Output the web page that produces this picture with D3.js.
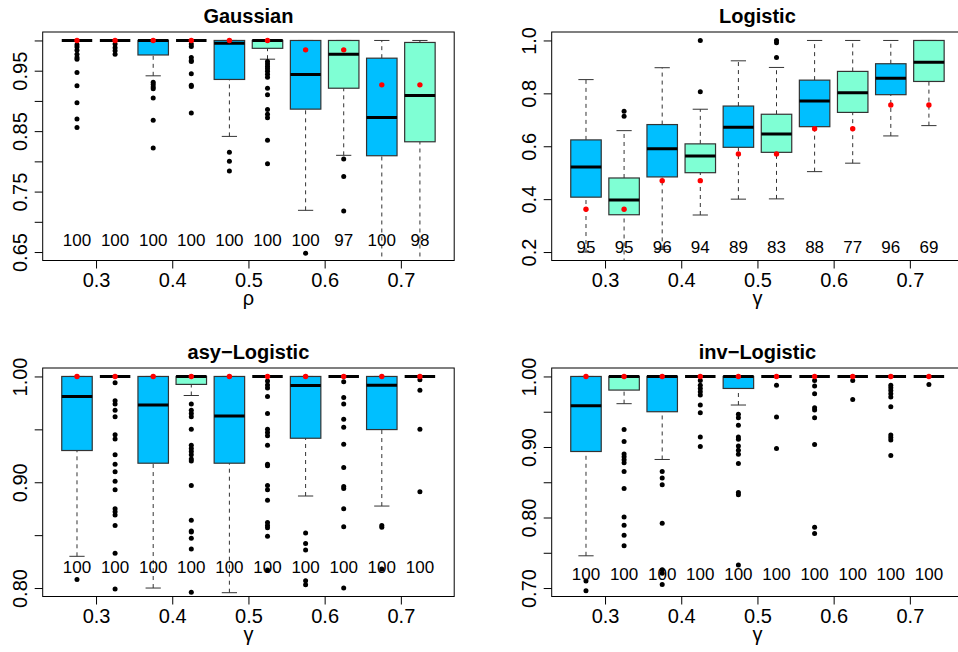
<!DOCTYPE html>
<html><head><meta charset="utf-8">
<script src="https://cdn.jsdelivr.net/npm/d3@7/dist/d3.min.js"></script>
<style>body{margin:0;background:#fff}svg{display:block}</style>
</head><body>
<svg id="chart" width="958" height="652"></svg>
<script>
// ---------- shared categories ----------
const xTickLabels = ["0.3", "0.4", "0.5", "0.6", "0.7"];
const xTickPositions = [1.5, 3.5, 5.5, 7.5, 9.5];
const boxPositions = [1, 2, 3, 4, 5, 6, 7, 8, 9, 10];
const boxColors = ["#00BFFF", "#7FFFD4"];

// ---------- Gaussian ----------
// [lower whisker, Q1, median, Q3, upper whisker]
const gaussStats = [
  [1, 1, 1, 1, 1], [1, 1, 1, 1, 1], [0.9415, 0.976, 1, 1, 1], [1, 1, 1, 1, 1],
  [0.8413, 0.9355, 0.9955, 1, 1], [0.969, 0.987, 1, 1, 1], [0.719, 0.8864, 0.9438, 1, 1],
  [0.810, 0.921, 0.977, 1, 1], [0.55, 0.8093, 0.8727, 0.9707, 1], [0.55, 0.8324, 0.909, 0.9967, 1]
];
const gaussOutliers = [
  [0.993, 0.989, 0.984, 0.977, 0.972, 0.969, 0.947, 0.925, 0.897, 0.870, 0.856],
  [0.994, 0.988, 0.983, 0.977],
  [0.931, 0.927, 0.923, 0.920, 0.905, 0.868, 0.822],
  [0.994, 0.990, 0.972, 0.967, 0.965, 0.945, 0.926, 0.924, 0.880],
  [0.815, 0.800, 0.784],
  [0.965, 0.961, 0.957, 0.953, 0.949, 0.944, 0.939, 0.921, 0.910, 0.886, 0.878, 0.872, 0.835, 0.796],
  [0.648],
  [0.804, 0.775, 0.718],
  [], []
];
const gaussTrue = [1, 1, 1, 1, 1, 1, 0.9845, 0.9845, 0.9266, 0.9266];
const gaussCounts = [100, 100, 100, 100, 100, 100, 100, 97, 100, 98];
const gaussYTicks = [0.65, 0.70, 0.75, 0.80, 0.85, 0.90, 0.95, 1.00];
const gaussYLabels = ["0.65", "", "0.75", "", "0.85", "", "0.95", ""];

// ---------- Logistic ----------
const logStats = [
  [0.2, 0.4075, 0.522, 0.624, 0.852], [0.1, 0.341, 0.397, 0.480, 0.659],
  [0.21, 0.484, 0.591, 0.682, 0.897], [0.340, 0.500, 0.563, 0.609, 0.740],
  [0.400, 0.596, 0.672, 0.752, 0.923], [0.401, 0.577, 0.646, 0.721, 0.898],
  [0.504, 0.674, 0.771, 0.850, 1.0], [0.536, 0.728, 0.802, 0.883, 1.0],
  [0.639, 0.795, 0.857, 0.912, 1.0], [0.678, 0.845, 0.918, 1.0, 1.0]
];
const logOutliers = [[], [0.732, 0.713], [], [1.0, 0.806], [], [1.0, 0.991, 0.936], [], [], [], []];
const logTrue = [0.362, 0.362, 0.470, 0.470, 0.571, 0.571, 0.666, 0.666, 0.756, 0.756];
const logCounts = [95, 95, 96, 94, 89, 83, 88, 77, 96, 69];
const logYTicks = [0.2, 0.4, 0.6, 0.8, 1.0];
const logYLabels = ["0.2", "0.4", "0.6", "0.8", "1.0"];

// ---------- asy-Logistic ----------
const asyStats = [
  [0.830, 0.930, 0.981, 1, 1], [1, 1, 1, 1, 1], [0.800, 0.918, 0.973, 1, 1],
  [0.982, 0.9925, 1, 1, 1], [0.7956, 0.918, 0.9626, 1, 1], [1, 1, 1, 1, 1],
  [0.887, 0.9416, 0.9915, 1, 1], [1, 1, 1, 1, 1], [0.8775, 0.9498, 0.9918, 1, 1], [1, 1, 1, 1, 1]
];
const asyOutliers = [
  [0.808],
  [0.994, 0.977, 0.974, 0.968, 0.962, 0.945, 0.941, 0.926, 0.917, 0.910, 0.901, 0.893, 0.875, 0.872, 0.869, 0.859, 0.833, 0.799],
  [],
  [0.974, 0.968, 0.965, 0.962, 0.950, 0.935, 0.932, 0.929, 0.926, 0.922, 0.920, 0.897, 0.864, 0.854, 0.853, 0.847, 0.837, 0.796],
  [],
  [0.9956, 0.992, 0.989, 0.981, 0.965, 0.950, 0.947, 0.944, 0.935, 0.917, 0.9155, 0.897, 0.893, 0.883, 0.862, 0.859, 0.857, 0.849, 0.817],
  [0.852, 0.842, 0.836, 0.807, 0.803],
  [0.995, 0.980, 0.974, 0.9595, 0.952, 0.936, 0.914, 0.896, 0.894, 0.875, 0.858, 0.800],
  [0.859, 0.8575, 0.818],
  [0.997, 0.987, 0.950, 0.891]
];
const asyTrue = [1, 1, 1, 1, 1, 1, 1, 1, 1, 1];
const asyCounts = [100, 100, 100, 100, 100, 100, 100, 100, 100, 100];
const asyYTicks = [0.80, 0.85, 0.90, 0.95, 1.00];
const asyYLabels = ["0.80", "", "0.90", "", "1.00"];

// ---------- inv-Logistic ----------
const invStats = [
  [0.7457, 0.8936, 0.9586, 1, 1], [0.9614, 0.9807, 1, 1, 1], [0.8823, 0.950, 1, 1, 1],
  [1, 1, 1, 1, 1], [0.9595, 0.983, 1, 1, 1], [1, 1, 1, 1, 1], [1, 1, 1, 1, 1],
  [1, 1, 1, 1, 1], [1, 1, 1, 1, 1], [1, 1, 1, 1, 1]
];
const invOutliers = [
  [0.710, 0.696],
  [0.9247, 0.9077, 0.890, 0.886, 0.882, 0.8775, 0.8653, 0.841, 0.8008, 0.789, 0.775, 0.760],
  [0.8653, 0.856, 0.8464, 0.7919, 0.7259, 0.721, 0.705],
  [0.9943, 0.9877, 0.983, 0.9783, 0.9736, 0.9595, 0.9487, 0.9143, 0.9006],
  [0.9463, 0.9416, 0.9308, 0.9143, 0.911, 0.9015, 0.8954, 0.8898, 0.8766, 0.8356, 0.8323, 0.7325],
  [0.9877, 0.9425, 0.8978],
  [0.9943, 0.9863, 0.9755, 0.9558, 0.9524, 0.9416, 0.9035, 0.7862, 0.7772],
  [0.9943, 0.9675],
  [0.9877, 0.984, 0.9802, 0.9755, 0.9708, 0.9572, 0.917, 0.9134, 0.910, 0.888],
  [0.9887]
];
const invTrue = [1, 1, 1, 1, 1, 1, 1, 1, 1, 1];
const invCounts = [100, 100, 100, 100, 100, 100, 100, 100, 100, 100];
const invYTicks = [0.70, 0.75, 0.80, 0.85, 0.90, 0.95, 1.00];
const invYLabels = ["0.70", "", "0.80", "", "0.90", "", "1.00"];

// ---------- panels ----------
const panels = [
  {title: "Gaussian", xlab: "\u03C1", stats: gaussStats, out: gaussOutliers, truth: gaussTrue, counts: gaussCounts,
   ylim: [0.65, 1.0], yTicks: gaussYTicks, yLabels: gaussYLabels, left: 42.7, top: 32},
  {title: "Logistic", xlab: "\u03B3", stats: logStats, out: logOutliers, truth: logTrue, counts: logCounts,
   ylim: [0.2, 1.0], yTicks: logYTicks, yLabels: logYLabels, left: 551.7, top: 32},
  {title: "asy\u2212Logistic", xlab: "\u03B3", stats: asyStats, out: asyOutliers, truth: asyTrue, counts: asyCounts,
   ylim: [0.8, 1.0], yTicks: asyYTicks, yLabels: asyYLabels, left: 42.7, top: 368},
  {title: "inv\u2212Logistic", xlab: "\u03B3", stats: invStats, out: invOutliers, truth: invTrue, counts: invCounts,
   ylim: [0.7, 1.0], yTicks: invYTicks, yLabels: invYLabels, left: 551.7, top: 368}
];

const W = 411.5, H = 228.5;
const FONT = "'Liberation Sans', Arial, Helvetica, sans-serif";
const svg = d3.select("#chart");
const defs = svg.append("defs");

panels.forEach((p, pi) => {
  const r = p.ylim[1] - p.ylim[0];
  const x = d3.scaleLinear().domain([0.1, 10.9]).range([p.left, p.left + W]);
  const y = d3.scaleLinear().domain([p.ylim[0] - 0.04 * r, p.ylim[1] + 0.04 * r]).range([p.top + H, p.top]);
  const bw = x(1.4) - x(1); // half box width (0.4 units)
  const sw = x(1.2) - x(1); // half staple width

  defs.append("clipPath").attr("id", "clip" + pi)
    .append("rect").attr("x", p.left).attr("y", p.top).attr("width", W).attr("height", H);

  const g = svg.append("g").attr("clip-path", `url(#clip${pi})`);

  boxPositions.forEach((pos, i) => {
    const [lo, q1, med, q3, hi] = p.stats[i];
    const cx = x(pos);
    const bg = g.append("g");
    // whiskers
    bg.append("line").attr("x1", cx).attr("x2", cx).attr("y1", y(lo)).attr("y2", y(q1))
      .attr("stroke", "#333").attr("stroke-width", 1).attr("stroke-dasharray", "4,4");
    bg.append("line").attr("x1", cx).attr("x2", cx).attr("y1", y(q3)).attr("y2", y(hi))
      .attr("stroke", "#333").attr("stroke-width", 1).attr("stroke-dasharray", "4,4");
    // staples
    [lo, hi].forEach(v => {
      bg.append("line").attr("x1", cx - sw).attr("x2", cx + sw).attr("y1", y(v)).attr("y2", y(v))
        .attr("stroke", "#333").attr("stroke-width", 1);
    });
    // box
    bg.append("rect").attr("x", cx - bw).attr("width", 2 * bw)
      .attr("y", y(q3)).attr("height", Math.max(0, y(q1) - y(q3)))
      .attr("fill", boxColors[i % 2]).attr("stroke", "#333").attr("stroke-width", 1.2);
    // median
    bg.append("line").attr("x1", cx - bw).attr("x2", cx + bw).attr("y1", y(med)).attr("y2", y(med))
      .attr("stroke", "#000").attr("stroke-width", 3);
    // outliers
    bg.selectAll("circle.o").data(p.out[i]).join("circle").attr("class", "o")
      .attr("cx", cx).attr("cy", d => y(d)).attr("r", 2.5).attr("fill", "#000");
  });

  // red true values
  g.selectAll("circle.t").data(p.truth).join("circle").attr("class", "t")
    .attr("cx", (d, i) => x(boxPositions[i])).attr("cy", d => y(d)).attr("r", 2.7).attr("fill", "#FF0000");

  // counts
  g.selectAll("text.n").data(p.counts).join("text").attr("class", "n")
    .attr("x", (d, i) => x(boxPositions[i])).attr("y", y(p.ylim[0] + 0.02) + 6)
    .attr("text-anchor", "middle").attr("font-family", FONT).attr("font-size", 17).attr("fill", "#000")
    .text(d => d);

  // frame
  svg.append("rect").attr("x", p.left).attr("y", p.top).attr("width", W).attr("height", H)
    .attr("fill", "none").attr("stroke", "#000").attr("stroke-width", 1);

  // y axis
  const ya = svg.append("g").attr("transform", `translate(${p.left},0)`)
    .call(d3.axisLeft(y).tickValues(p.yTicks).tickSize(8).tickFormat((d, i) => p.yLabels[i]));
  ya.select(".domain").remove();
  ya.selectAll(".tick line").attr("stroke", "#000");
  ya.selectAll(".tick text").attr("x", null).attr("dy", null)
    .attr("transform", "translate(-16,0) rotate(-90)").attr("text-anchor", "middle")
    .attr("font-family", FONT).attr("font-size", 20).attr("fill", "#000");

  // x axis
  const xa = svg.append("g").attr("transform", `translate(0,${p.top + H})`)
    .call(d3.axisBottom(x).tickValues(xTickPositions).tickSize(8).tickFormat((d, i) => xTickLabels[i]));
  xa.select(".domain").remove();
  xa.selectAll(".tick line").attr("stroke", "#000");
  xa.selectAll(".tick text").attr("y", 26.5).attr("dy", null)
    .attr("font-family", FONT).attr("font-size", 20).attr("fill", "#000");

  // x label
  svg.append("text").attr("x", p.left + W / 2).attr("y", p.top + H + 44.5)
    .attr("text-anchor", "middle").attr("font-family", FONT).attr("font-size", 20).text(p.xlab);

  // title
  svg.append("text").attr("x", p.left + W / 2).attr("y", p.top - 9)
    .attr("text-anchor", "middle").attr("font-family", FONT).attr("font-size", 20)
    .attr("font-weight", "bold").text(p.title);
});
</script>
</body></html>
